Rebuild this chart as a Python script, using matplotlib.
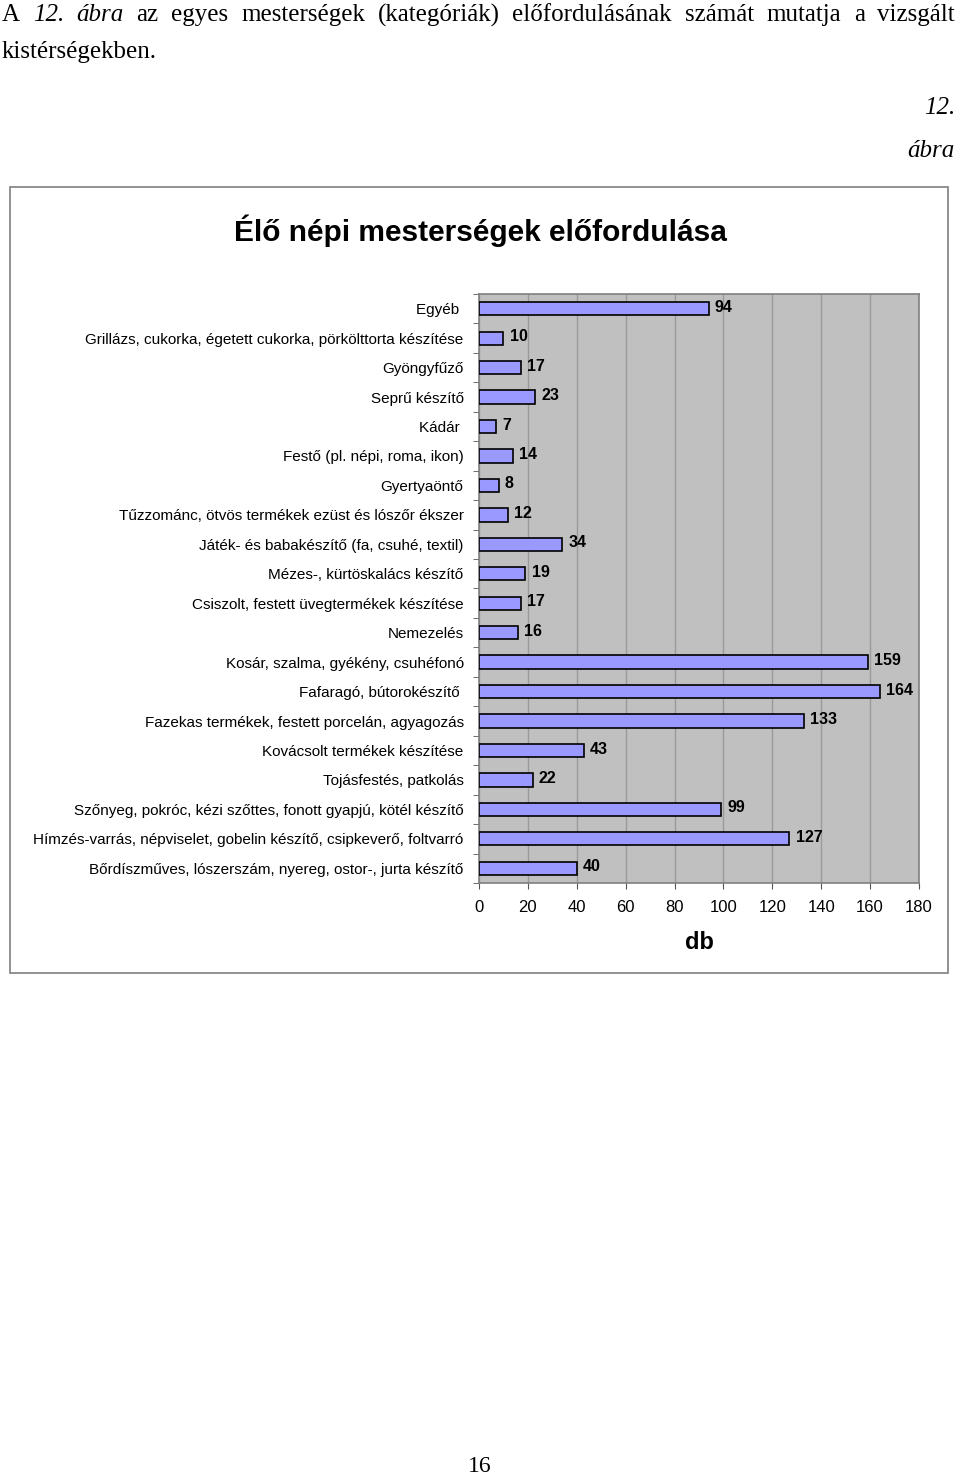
import matplotlib.pyplot as plt
from matplotlib.patches import Rectangle
from matplotlib.ticker import FixedLocator

kategoriak = [
    "Egyéb ",
    "Grillázs, cukorka, égetett cukorka, pörkölttorta készítése",
    "Gyöngyfűző",
    "Seprű készítő",
    "Kádár ",
    "Festő (pl. népi, roma, ikon)",
    "Gyertyaöntő",
    "Tűzzománc, ötvös termékek ezüst és lószőr ékszer",
    "Játék- és babakészítő (fa, csuhé, textil)",
    "Mézes-, kürtöskalács készítő",
    "Csiszolt, festett üvegtermékek készítése",
    "Nemezelés",
    "Kosár, szalma, gyékény, csuhéfonó",
    "Fafaragó, bútorokészítő ",
    "Fazekas termékek, festett porcelán, agyagozás",
    "Kovácsolt termékek készítése",
    "Tojásfestés, patkolás",
    "Szőnyeg, pokróc, kézi szőttes, fonott gyapjú, kötél készítő",
    "Hímzés-varrás, népviselet, gobelin készítő, csipkeverő, foltvarró",
    "Bőrdíszműves, lószerszám, nyereg, ostor-, jurta készítő",
]
darab = [94, 10, 17, 23, 7, 14, 8, 12, 34, 19, 17, 16, 159, 164, 133, 43, 22, 99, 127, 40]
x_tickek = [0, 20, 40, 60, 80, 100, 120, 140, 160, 180]

sans = ['Liberation Sans', 'DejaVu Sans']
serif = ['Liberation Serif', 'DejaVu Serif']

fig = plt.figure(figsize=(9.6, 14.8), dpi=100)

# szoveg a diagram folott: sorkizart elso sor
szavak = [("A", False), ("12.", True), ("ábra", True), ("az", False), ("egyes", False),
          ("mesterségek", False), ("(kategóriák)", False), ("előfordulásának", False),
          ("számát", False), ("mutatja", False), ("a", False), ("vizsgált", False)]
szoveg_obj = []
for szo, dolt in szavak:
    t = fig.text(0, 1 - 15 / 1480, szo, family=serif, fontsize=18,
                 style='italic' if dolt else 'normal', va='center', ha='left')
    szoveg_obj.append(t)
fig.canvas.draw()
r = fig.canvas.get_renderer()
szelessegek = [t.get_window_extent(r).width for t in szoveg_obj]
bal, jobb = 2, 955
hezag = (jobb - bal - sum(szelessegek)) / (len(szelessegek) - 1)
xp = bal
for t, w in zip(szoveg_obj, szelessegek):
    t.set_x(xp / 960)
    xp += w + hezag

fig.text(2 / 960, 1 - 52 / 1480, "kistérségekben.", family=serif, fontsize=18, va='center')
fig.text(955 / 960, 1 - 108 / 1480, "12.", family=serif, fontsize=18, style='italic',
         va='center', ha='right')
fig.text(955 / 960, 1 - 151 / 1480, "ábra", family=serif, fontsize=18, style='italic',
         va='center', ha='right')
fig.text(0.5, 1 - 1467 / 1480, "16", family=serif, fontsize=17, va='center', ha='center')

# keret
fig.patches.append(Rectangle((10 / 960, 1 - 973 / 1480), 938 / 960, 786 / 1480,
                             transform=fig.transFigure, fill=False,
                             edgecolor='#7f7f7f', linewidth=1.2))

fig.text(0.5, 1 - 231 / 1480, "Élő népi mesterségek előfordulása", family=sans,
         fontsize=21.5, fontweight='bold', ha='center', va='center')

ax = fig.add_axes([479 / 960, 1 - 883 / 1480, 440 / 960, 589 / 1480])
ax.set_facecolor('#c0c0c0')
y = list(range(len(kategoriak)))
ax.barh(y, darab, height=0.45, color='#9999ff', edgecolor='black', linewidth=1.2, zorder=3)
for yi, v in zip(y, darab):
    ax.text(v + 2.5, yi - 0.05, str(v), family=sans, fontsize=11.5, fontweight='bold',
            va='center', ha='left', zorder=4)

ax.set_ylim(len(kategoriak) - 0.5, -0.5)
ax.set_xlim(0, 180)
ax.set_yticks(y)
ax.set_yticklabels(kategoriak, family=sans, fontsize=11)
ax.yaxis.set_minor_locator(FixedLocator([i - 0.5 for i in range(len(kategoriak) + 1)]))
ax.tick_params(axis='y', which='major', length=0, pad=11)
ax.tick_params(axis='y', which='minor', length=4, color='#555555')
ax.set_xticks(x_tickek)
ax.set_xticklabels([str(t) for t in x_tickek], family=sans, fontsize=12)
ax.tick_params(axis='x', length=4, color='#555555', pad=8)
ax.grid(axis='x', color='#9a9a9a', linewidth=1, zorder=0)
for s in ax.spines.values():
    s.set_color('#808080')
    s.set_linewidth(1.2)
ax.set_xlabel("db", family=sans, fontsize=17, fontweight='bold', labelpad=12)

fig.savefig('out.png', dpi=100)
